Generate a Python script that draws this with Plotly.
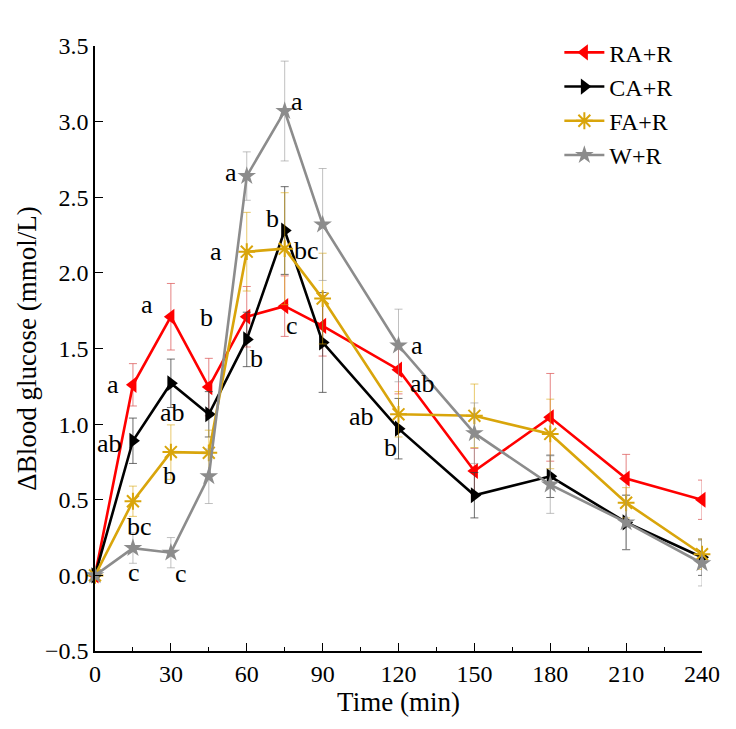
import plotly.graph_objects as go

time = [0, 15, 30, 45, 60, 75, 90, 120, 150, 180, 210, 240]

ra = [0.0, 1.26, 1.71, 1.245, 1.71, 1.78, 1.65, 1.36, 0.69, 1.045, 0.64, 0.50]
ca = [0.0, 0.89, 1.27, 1.065, 1.56, 2.28, 1.54, 0.97, 0.53, 0.655, 0.35, 0.12]
fa = [0.0, 0.49, 0.815, 0.81, 2.14, 2.16, 1.83, 1.065, 1.055, 0.935, 0.48, 0.14]
w = [0.0, 0.18, 0.15, 0.655, 2.64, 3.07, 2.32, 1.52, 0.94, 0.60, 0.35, 0.08]

ra_err = [0.0, 0.14, 0.22, 0.19, 0.20, 0.20, 0.20, 0.16, 0.15, 0.29, 0.16, 0.13]
ca_err = [0.0, 0.15, 0.16, 0.15, 0.18, 0.29, 0.33, 0.20, 0.15, 0.14, 0.18, 0.12]
fa_err = [0.0, 0.10, 0.18, 0.15, 0.26, 0.37, 0.30, 0.15, 0.21, 0.23, 0.10, 0.10]
w_err = [0.0, 0.10, 0.10, 0.18, 0.16, 0.33, 0.37, 0.24, 0.20, 0.19, 0.18, 0.15]

names = ["RA+R", "CA+R", "FA+R", "W+R"]
xticks = [0, 30, 60, 90, 120, 150, 180, 210, 240]
yticks = [-0.5, 0.0, 0.5, 1.0, 1.5, 2.0, 2.5, 3.0, 3.5]

# significance letters: (series, time, letter, dx px, dy px)
letters = [
    ("RA+R", 15, "a", -20, 0), ("CA+R", 15, "ab", -23, -3), ("FA+R", 15, "bc", 7, -25), ("W+R", 15, "c", 1, -24),
    ("RA+R", 30, "a", -24, 12), ("CA+R", 30, "ab", 2, -29), ("FA+R", 30, "b", -1, -23), ("W+R", 30, "c", 10, -21),
    ("RA+R", 45, "b", -2, 70),
    ("W+R", 60, "a", -16, 4), ("FA+R", 60, "a", -31, 0), ("CA+R", 60, "b", 10, -19),
    ("W+R", 75, "a", 12, 10), ("CA+R", 75, "b", -12, 12), ("FA+R", 75, "bc", 22, -2), ("RA+R", 75, "c", 7, -19),
    ("W+R", 120, "a", 18, 0), ("RA+R", 120, "ab", 24, -14), ("FA+R", 120, "ab", -37, -2), ("CA+R", 120, "b", -8, -19),
]

series = {
    "RA+R": dict(y=ra, e=ra_err, color="#FF0000", ecolor="rgba(220,90,90,0.75)", symbol="triangle-left", size=14, lw=0),
    "CA+R": dict(y=ca, e=ca_err, color="#000000", ecolor="rgba(60,60,60,0.75)", symbol="triangle-right", size=14, lw=0),
    "FA+R": dict(y=fa, e=fa_err, color="#D9A50B", ecolor="rgba(217,165,11,0.6)", symbol="asterisk-open", size=14, lw=2),
    "W+R": dict(y=w, e=w_err, color="#8C8C8C", ecolor="rgba(150,150,150,0.6)", symbol="star", size=14, lw=0),
}

fig = go.Figure()
for n in names:
    s = series[n]
    marker = dict(symbol=s["symbol"], size=s["size"], color=s["color"])
    if s["lw"]:
        marker["line"] = dict(color=s["color"], width=s["lw"])
    fig.add_trace(go.Scatter(
        x=time, y=s["y"], name=n, mode="lines+markers",
        line=dict(color=s["color"], width=2.6),
        marker=marker,
        error_y=dict(type="data", array=s["e"], visible=True, color=s["ecolor"], thickness=1, width=4),
        cliponaxis=False,
    ))

for n, t, txt, dx, dy in letters:
    yv = series[n]["y"][time.index(t)]
    fig.add_annotation(x=t, y=yv, text=txt, showarrow=False, xshift=dx, yshift=dy,
                       font=dict(family="Liberation Serif", size=26, color="black"))

font = "Liberation Serif"
fig.update_layout(
    width=736, height=729,
    margin=dict(l=95, r=34, t=46, b=78),
    plot_bgcolor="white", paper_bgcolor="white",
    showlegend=True,
    legend=dict(x=0.765, y=1.026, xanchor="left", yanchor="top",
                font=dict(family=font, size=24, color="black"),
                bgcolor="rgba(0,0,0,0)", tracegroupgap=0, itemwidth=40),
    font=dict(family=font, color="black"),
)
fig.update_xaxes(
    range=[0, 240], tickvals=xticks, ticks="inside", ticklen=8, tickwidth=1.2, tickcolor="black",
    showline=True, linecolor="black", linewidth=1.5, showgrid=False, zeroline=False,
    tickfont=dict(family=font, size=24, color="black"),
    minor=dict(dtick=15, tick0=0, ticks="inside", ticklen=4, tickcolor="black", tickwidth=1.2),
    title=dict(text="Time (min)", font=dict(family=font, size=27, color="black"), standoff=6),
)
fig.update_yaxes(
    range=[-0.5, 3.5], tickvals=yticks, tickformat=".1f", ticks="inside", ticklen=8, tickwidth=1.2, tickcolor="black",
    showline=True, linecolor="black", linewidth=1.5, showgrid=False, zeroline=False,
    tickfont=dict(family=font, size=24, color="black"),
    title=dict(text="ΔBlood glucose (mmol/L)", font=dict(family=font, size=27, color="black"), standoff=0),
)

fig.write_html("out.html")
